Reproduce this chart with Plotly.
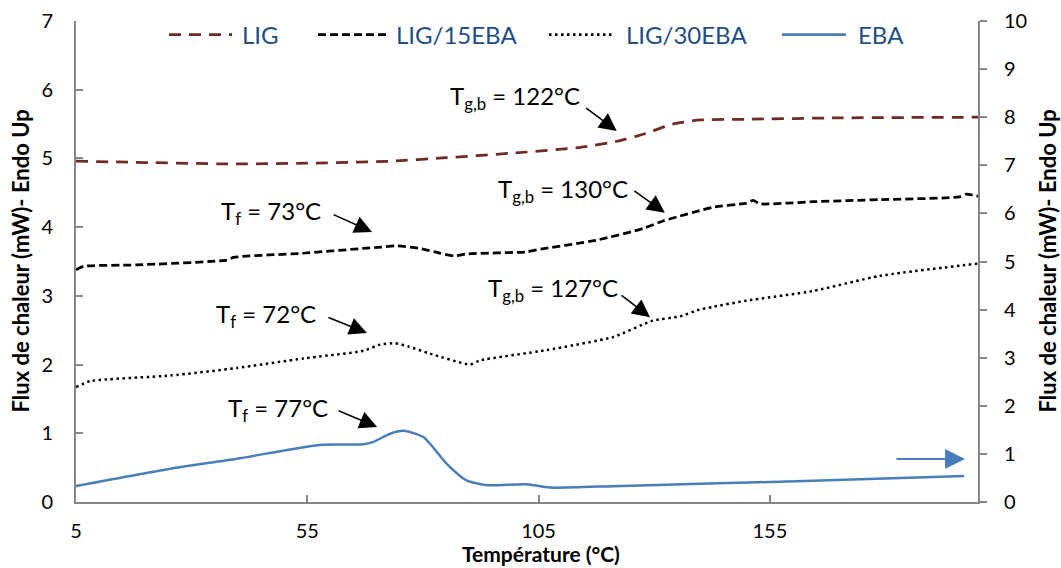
import plotly.graph_objects as go

# temperature (°C) / heat flow (mW)
lig_t = [5, 20, 38, 55, 73, 85, 100, 114, 122, 128, 134, 140, 150, 170, 200]
lig_v = [4.96, 4.94, 4.92, 4.93, 4.96, 5.01, 5.08, 5.16, 5.25, 5.36, 5.50, 5.56, 5.57, 5.59, 5.60]

lig15_t = [5, 6.6, 18, 37.6, 39, 54, 67, 71, 74.3, 79.4, 83.7, 86.9, 89.4, 102.4, 104.6,
           117.5, 127.6, 131.9, 135.5, 139.8, 142.7, 149.9, 151.4, 152.8, 164.3, 178.7, 196, 197.4, 200]
lig15_v = [3.38, 3.43, 3.45, 3.52, 3.56, 3.62, 3.69, 3.71, 3.73, 3.69, 3.62, 3.58, 3.61, 3.64, 3.67,
           3.81, 3.98, 4.09, 4.16, 4.24, 4.29, 4.35, 4.39, 4.34, 4.37, 4.40, 4.44, 4.48, 4.45]

lig30_t = [5, 8.1, 25.4, 39.8, 54.2, 67.1, 70.7, 74, 77, 81.5, 90.2, 92.3, 106.7, 121.1,
           129.7, 135.5, 139.8, 142.7, 149.9, 164.3, 178.7, 200]
lig30_v = [1.67, 1.76, 1.84, 1.95, 2.09, 2.20, 2.29, 2.31, 2.26, 2.16, 2.00, 2.06, 2.21, 2.40,
           2.64, 2.70, 2.80, 2.84, 2.93, 3.07, 3.29, 3.47]

# EBA is read on the right axis
eba_t = [5, 25.4, 39.8, 54.2, 58.5, 67.1, 69.3, 72.9, 75.8, 80.1, 85.1, 89.4, 93.8, 102.4,
         107.4, 121.1, 139.8, 164.3, 197]
eba_v = [0.33, 0.69, 0.90, 1.14, 1.19, 1.20, 1.25, 1.42, 1.48, 1.35, 0.80, 0.45, 0.35, 0.37,
         0.30, 0.33, 0.38, 0.44, 0.54]

x_ticks = [5, 55, 105, 155]

FONT = "Lato"
AXIS_COL = "#868686"
BROWN = "#6f2a28"
BLUE = "#4a7ebb"
LEG_BLUE = "#1f4e86"

fig = go.Figure()
fig.add_trace(go.Scatter(x=lig_t, y=lig_v, mode="lines", name="LIG",
                         line=dict(color=BROWN, width=2.75, dash="12px,8px", shape="spline", smoothing=0.6)))
fig.add_trace(go.Scatter(x=lig15_t, y=lig15_v, mode="lines", name="LIG/15EBA",
                         line=dict(color="black", width=2.75, dash="8px,4px", shape="spline", smoothing=0.5)))
fig.add_trace(go.Scatter(x=lig30_t, y=lig30_v, mode="lines", name="LIG/30EBA",
                         line=dict(color="black", width=2.5, dash="2.5px,3.5px", shape="spline", smoothing=0.5)))
fig.add_trace(go.Scatter(x=eba_t, y=eba_v, mode="lines", name="EBA", yaxis="y2",
                         line=dict(color=BLUE, width=2.5, shape="spline", smoothing=0.6)))
fig.update_traces(showlegend=False)

# legend drawn by hand (Excel-like long samples)
legend_items = [("LIG", BROWN, "12px,8px", 169, 232, 240),
                ("LIG/15EBA", "black", "8px,4px", 318, 386, 394),
                ("LIG/30EBA", "black", "2.5px,3.5px", 549, 612, 624),
                ("EBA", BLUE, "solid", 782, 846, 856)]
L, R, T, B = 76, 83, 21, 66
W, H = 1061, 568
pw, ph = W - L - R, H - T - B
leg_y = 1 + (T - 34.5) / ph
shapes = []
annotations = []
for name, col, dash, x0, x1, xt in legend_items:
    shapes.append(dict(type="line", xref="paper", yref="paper",
                       x0=(x0 - L) / pw, x1=(x1 - L) / pw, y0=leg_y, y1=leg_y,
                       line=dict(color=col, width=2.75, dash=dash)))
    annotations.append(dict(xref="paper", yref="paper", x=(xt - L) / pw, y=leg_y,
                            text=name, showarrow=False, xanchor="left", yanchor="middle",
                            font=dict(family=FONT, size=24, color=LEG_BLUE)))

# labels: (text, x, y) right-aligned text
labels = [("T<sub>g,b</sub> = 122°C", 114.4, 5.89),
          ("T<sub>g,b</sub> = 130°C", 124.8, 4.54),
          ("T<sub>g,b</sub> = 127°C", 122.6, 3.09),
          ("T<sub>f</sub> = 73°C", 58.4, 4.21),
          ("T<sub>f</sub> = 72°C", 57.3, 2.72),
          ("T<sub>f</sub> = 77°C", 59.9, 1.34)]
for txt, x, y in labels:
    annotations.append(dict(x=x, y=y, xref="x", yref="y", text=txt, showarrow=False,
                            xanchor="right", yanchor="middle",
                            font=dict(family=FONT, size=24, color="black")))

# arrows: tip (x, y) and tail offset in px
arrows = [(121.9, 5.40, -32, -24), (132.3, 4.21, -32, -23), (129.1, 2.69, -30, -23),
          (69.0, 3.93, -40, -18), (67.9, 2.46, -40, -16), (70.1, 1.09, -40, -17)]
for x, y, ax, ay in arrows:
    annotations.append(dict(x=x, y=y, xref="x", yref="y", ax=ax, ay=ay, text="",
                            showarrow=True, arrowhead=2, arrowsize=2.2, arrowwidth=1.6,
                            arrowcolor="black", standoff=0))
annotations.append(dict(x=197.2, y=0.894, xref="x", yref="y2", ax=-70, ay=0, text="",
                        showarrow=True, arrowhead=2, arrowsize=2.0, arrowwidth=2,
                        arrowcolor=BLUE, standoff=0))

# axis titles
ytitle = "Flux de chaleur (mW)- Endo Up"
ytitle_font = dict(family=FONT, size=22, color="black")
annotations.append(dict(xref="paper", yref="paper", x=0, y=0.5, xshift=-56, text="<b>%s</b>" % ytitle,
                        textangle=-90, showarrow=False, xanchor="center", yanchor="middle",
                        font=ytitle_font))
annotations.append(dict(xref="paper", yref="paper", x=1, y=0.5, xshift=69, text="<b>%s</b>" % ytitle,
                        textangle=-90, showarrow=False, xanchor="center", yanchor="middle",
                        font=ytitle_font))
annotations.append(dict(xref="paper", yref="paper", x=0.515, y=0, yshift=-51,
                        text="<b>Température (°C)</b>", showarrow=False,
                        xanchor="center", yanchor="middle",
                        font=dict(family=FONT, size=21, color="black")))

axis_common = dict(showline=True, linecolor=AXIS_COL, linewidth=2, showgrid=False, zeroline=False,
                   tickcolor=AXIS_COL, ticklen=7, tickwidth=2, automargin=False,
                   tickfont=dict(family=FONT, size=20, color="black"))

fig.update_layout(
    width=W, height=H,
    margin=dict(l=L, r=R, t=T, b=B),
    paper_bgcolor="white", plot_bgcolor="white",
    xaxis=dict(range=[5, 200], tickvals=x_ticks, ticks="inside", ticklabelstandoff=10, **axis_common),
    yaxis=dict(range=[0, 7], dtick=1, ticks="inside", ticklabelstandoff=17, **axis_common),
    yaxis2=dict(range=[0, 10], dtick=1, overlaying="y", side="right", ticks="outside",
                ticklabelstandoff=13, **axis_common),
    shapes=shapes,
    annotations=annotations,
    showlegend=False,
)

# drop the default 8px page margin so the figure sits at the window corner
fig.write_html("out.html", config={"displayModeBar": False},
               post_script="document.body.style.margin='0';")
